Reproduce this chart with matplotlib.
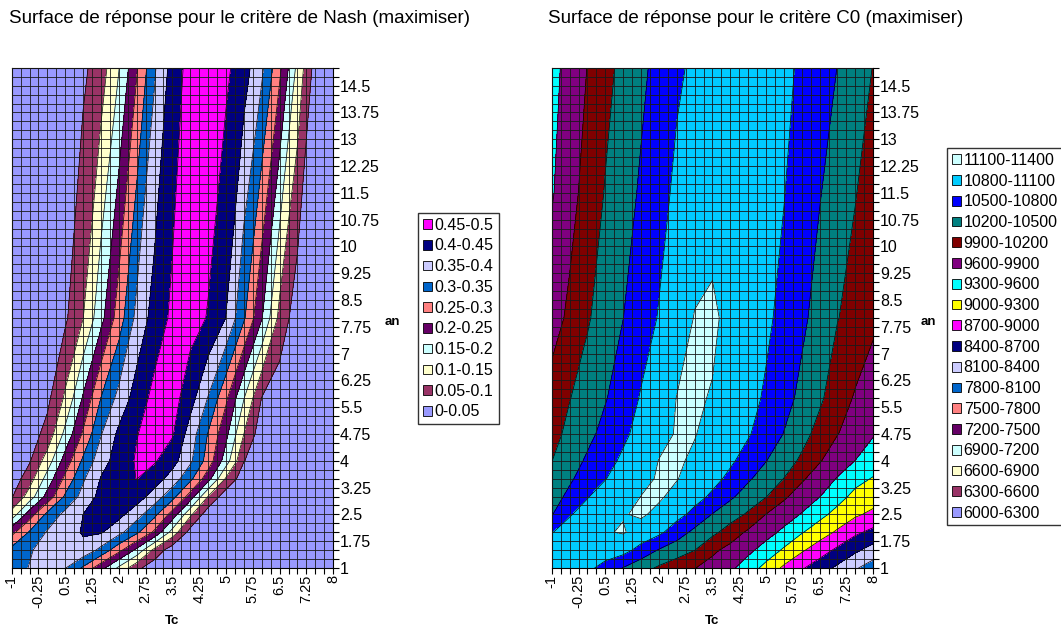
import numpy as np
import matplotlib.pyplot as plt
from matplotlib.patches import Patch

plt.rcParams['font.family'] = ['Liberation Sans', 'DejaVu Sans']

tc = [-1, -0.5, 0, 0.5, 1, 1.5, 2, 2.5, 3, 3.5, 4, 4.5, 5, 5.5, 6, 6.5, 7, 7.5, 8]

# Nash criterion, one row per "an" value
an_nash = [1, 1.5, 2, 2.5, 3, 3.5, 4, 4.75, 5.75, 8, 15]
nash = [
    [0.33, 0.352, 0.37, 0.352, 0.292, 0.217, 0.14, 0.0625, 0.02, 0.01, 0.01, 0.01, 0.01, 0.01, 0.01, 0.01, 0.01, 0.01, 0.01],
    [0.315, 0.345, 0.37, 0.385, 0.385, 0.336, 0.265, 0.1875, 0.084, 0.02, 0.01, 0.01, 0.01, 0.01, 0.01, 0.01, 0.01, 0.01, 0.01],
    [0.235, 0.305, 0.355, 0.375, 0.405, 0.405, 0.365, 0.31, 0.24, 0.13, 0.03, 0.01, 0.01, 0.01, 0.01, 0.01, 0.01, 0.01, 0.01],
    [0.12, 0.225, 0.313, 0.364, 0.4, 0.425, 0.415, 0.37, 0.313, 0.23, 0.11, 0.02, 0.01, 0.01, 0.01, 0.01, 0.01, 0.01, 0.01],
    [0.045, 0.123, 0.217, 0.308, 0.367, 0.415, 0.435, 0.425, 0.377, 0.317, 0.228, 0.098, 0.02, 0.01, 0.01, 0.01, 0.01, 0.01, 0.01],
    [0.02, 0.077, 0.17, 0.262, 0.343, 0.403, 0.43, 0.451, 0.425, 0.378, 0.313, 0.22, 0.094, 0.02, 0.01, 0.01, 0.01, 0.01, 0.01],
    [0.015, 0.045, 0.124, 0.221, 0.309, 0.379, 0.4225, 0.455, 0.455, 0.419, 0.359, 0.279, 0.175, 0.052, 0.015, 0.01, 0.01, 0.01, 0.01],
    [0.01, 0.025, 0.067, 0.164, 0.257, 0.347, 0.411, 0.448, 0.47, 0.455, 0.377, 0.297, 0.213, 0.1, 0.02, 0.01, 0.01, 0.01, 0.01],
    [0.01, 0.02, 0.038, 0.108, 0.206, 0.301, 0.365, 0.423, 0.465, 0.47, 0.421, 0.347, 0.259, 0.152, 0.048, 0.02, 0.01, 0.01, 0.01],
    [0.01, 0.015, 0.025, 0.042, 0.099, 0.184, 0.274, 0.364, 0.421, 0.46, 0.47, 0.447, 0.399, 0.307, 0.204, 0.085, 0.02, 0.02, 0.01],
    [0.02, 0.02, 0.02, 0.02, 0.04, 0.076, 0.148, 0.245, 0.344, 0.42, 0.47, 0.485, 0.46, 0.422, 0.36, 0.261, 0.136, 0.03, 0.02],
]

# C0 criterion
an_c0 = [1, 1.5, 2, 2.5, 3, 3.5, 4, 4.75, 5.75, 8, 11.5, 15]
c0 = [
    [10900, 10950, 10880, 10679, 10487, 10311, 10156, 10032, 9909, 9781, 9655, 9455, 9200, 8945, 8732, 8539, 8341, 8132, 7950],
    [10930, 11000, 11020, 10980, 10910, 10688, 10479, 10341, 10205, 9960, 9800, 9665, 9484, 9256, 9040, 8839, 8640, 8453, 8280],
    [10790, 10900, 11000, 11080, 11120, 11004, 10864, 10642, 10426, 10271, 10067, 9848, 9703, 9536, 9320, 9140, 8955, 8756, 8620],
    [10480, 10782, 10891, 10990, 11087, 11130, 11044, 10894, 10717, 10488, 10334, 10159, 9894, 9740, 9581, 9383, 9204, 9045, 8930],
    [10390, 10560, 10787, 10899, 11001, 11103, 11130, 11035, 10903, 10750, 10546, 10373, 10212, 9946, 9765, 9606, 9405, 9220, 9140],
    [10290, 10460, 10624, 10791, 10917, 11044, 11120, 11110, 11009, 10887, 10734, 10537, 10367, 10195, 9939, 9756, 9582, 9390, 9280],
    [10195, 10371, 10542, 10704, 10850, 10980, 11105, 11130, 11065, 10953, 10843, 10688, 10507, 10334, 10149, 9921, 9737, 9595, 9450],
    [10100, 10276, 10426, 10585, 10745, 10896, 11036, 11115, 11110, 11026, 10926, 10825, 10668, 10490, 10302, 10099, 9908, 9780, 9620],
    [10010, 10190, 10335, 10481, 10648, 10823, 10964, 11105, 11120, 11090, 10987, 10882, 10766, 10601, 10428, 10248, 10040, 9870, 9740],
    [9780, 9956, 10168, 10338, 10497, 10659, 10818, 10971, 11110, 11130, 11051, 10952, 10851, 10722, 10560, 10387, 10210, 10100, 9960],
    [9570, 9796, 10008, 10218, 10377, 10539, 10698, 10860, 10960, 11030, 11040, 11000, 10930, 10810, 10664, 10516, 10366, 10211, 10080],
    [9500, 9709, 9907, 10110, 10283, 10437, 10593, 10755, 10850, 10920, 10970, 10980, 10950, 10870, 10752, 10625, 10495, 10350, 10190],
]

nash_levels = [0, 0.05, 0.1, 0.15, 0.2, 0.25, 0.3, 0.35, 0.4, 0.45, 0.5]
nash_labels = ['0-0.05', '0.05-0.1', '0.1-0.15', '0.15-0.2', '0.2-0.25', '0.25-0.3',
               '0.3-0.35', '0.35-0.4', '0.4-0.45', '0.45-0.5']
c0_levels = [6000, 6300, 6600, 6900, 7200, 7500, 7800, 8100, 8400, 8700, 9000, 9300,
             9600, 9900, 10200, 10500, 10800, 11100, 11400]
c0_labels = ['6000-6300', '6300-6600', '6600-6900', '6900-7200', '7200-7500', '7500-7800',
             '7800-8100', '8100-8400', '8400-8700', '8700-9000', '9000-9300', '9300-9600',
             '9600-9900', '9900-10200', '10200-10500', '10500-10800', '10800-11100', '11100-11400']

tc_ticks = [-1, -0.25, 0.5, 1.25, 2, 2.75, 3.5, 4.25, 5, 5.75, 6.5, 7.25, 8]
tc_labels = ['-1', '-0.25', '0.5', '1.25', '2', '2.75', '3.5', '4.25', '5', '5.75', '6.5', '7.25', '8']
an_ticks = [1, 1.75, 2.5, 3.25, 4, 4.75, 5.5, 6.25, 7, 7.75, 8.5, 9.25, 10, 10.75, 11.5,
            12.25, 13, 13.75, 14.5]
an_labels = ['1', '1.75', '2.5', '3.25', '4', '4.75', '5.5', '6.25', '7', '7.75', '8.5', '9.25',
             '10', '10.75', '11.5', '12.25', '13', '13.75', '14.5']

# excel palette, lowest band first
pal = ['#9999FF', '#993366', '#FFFFCC', '#CCFFFF', '#660066', '#FF8080', '#0066CC',
       '#CCCCFF', '#000080', '#FF00FF', '#FFFF00', '#00FFFF', '#800080', '#800000',
       '#008080', '#0000FF', '#00CCFF', '#CCFFFF']
nash_colors = pal[:10]
c0_colors = pal[:18]


def draw_surface(ax, x, y, z, levels, colors):
    X, Y = np.meshgrid(x, y)
    Z = np.array(z)
    ax.contourf(X, Y, Z, levels=levels, colors=colors, zorder=0)
    ax.contour(X, Y, Z, levels=levels[1:-1], colors='black', linewidths=0.5, zorder=1)
    ax.set_xlim(-1, 8)
    ax.set_ylim(1, 15)
    ax.set_xticks(tc_ticks)
    ax.set_xticklabels(tc_labels, rotation=90, fontsize=10.5)
    ax.set_xticks(np.arange(-1, 8.01, 0.25), minor=True)
    ax.yaxis.tick_right()
    ax.set_yticks(an_ticks)
    ax.set_yticklabels(an_labels, fontsize=11.5)
    ax.set_yticks(np.arange(1, 15.01, 0.25), minor=True)
    ax.set_axisbelow(False)
    ax.grid(which='both', color='#1a1a1a', linewidth=0.6)
    ax.tick_params(which='both', direction='out', length=4, width=0.8,
                   colors='black', pad=1)
    for s in ax.spines.values():
        s.set_linewidth(0.8)


fig = plt.figure(figsize=(10.61, 6.3), dpi=100)
ax1 = fig.add_axes([0.011, 0.0984, 0.303, 0.794])
ax2 = fig.add_axes([0.52, 0.0984, 0.303, 0.794])

draw_surface(ax1, tc, an_nash, nash, nash_levels, nash_colors)
draw_surface(ax2, tc, an_c0, c0, c0_levels, c0_colors)

fig.text(0.0085, 0.971, 'Surface de réponse pour le critère de Nash (maximiser)',
         fontsize=13.5, va='center', ha='left')
fig.text(0.5165, 0.971, 'Surface de réponse pour le critère C0 (maximiser)',
         fontsize=13.5, va='center', ha='left')

for x_an, x_tc in [(0.3695, 0.162), (0.8746, 0.671)]:
    fig.text(x_an, 0.489, 'an', fontsize=9.5, fontweight='bold', ha='center', va='center')
    fig.text(x_tc, 0.0143, 'Tc', fontsize=9.5, fontweight='bold', ha='center', va='center')

h1 = [Patch(facecolor=c, edgecolor='black', linewidth=0.6) for c in nash_colors][::-1]
fig.legend(h1, nash_labels[::-1], loc='upper left', bbox_to_anchor=(0.394, 0.662),
           fontsize=11.5, frameon=True, fancybox=False, edgecolor='black',
           handlelength=0.55, handleheight=0.55, handletextpad=0.2,
           labelspacing=0.36, borderpad=0.3, borderaxespad=0)

# shifted a little left so the longest labels stay inside the figure
h2 = [Patch(facecolor=c, edgecolor='black', linewidth=0.6) for c in c0_colors][::-1]
fig.legend(h2, c0_labels[::-1], loc='upper left', bbox_to_anchor=(0.8925, 0.765),
           fontsize=11.5, frameon=True, fancybox=False, edgecolor='black',
           handlelength=0.55, handleheight=0.55, handletextpad=0.2,
           labelspacing=0.36, borderpad=0.3, borderaxespad=0)

fig.savefig('out.png', dpi=100)
